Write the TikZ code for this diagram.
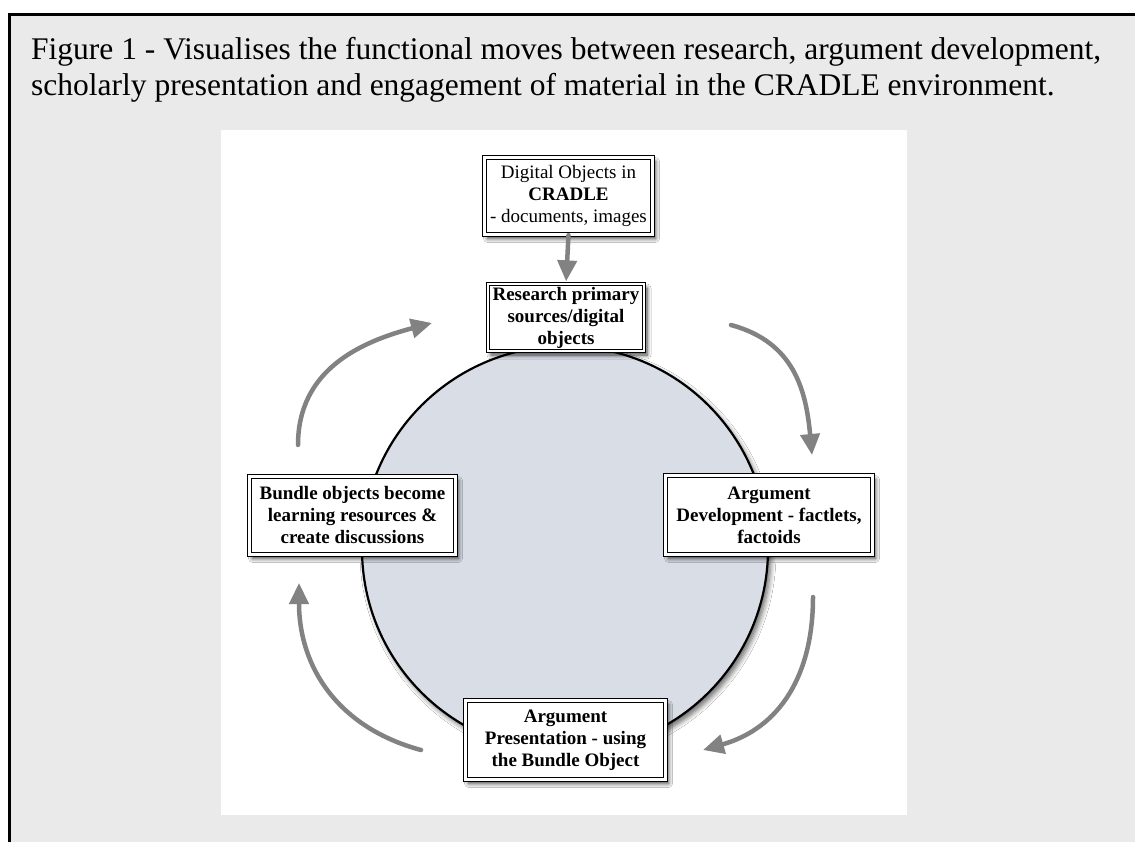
\documentclass[tikz,border=0pt]{standalone}
\usepackage{fontspec}
\setmainfont{Liberation Serif}
\usetikzlibrary{arrows.meta,shadows.blur}
\definecolor{panelbg}{HTML}{EAEAEA}
\definecolor{circfill}{HTML}{D9DEE6}
\definecolor{arrowgray}{HTML}{828282}
\tikzset{
  dbox/.style={draw=black, line width=1.3pt, double=white, double distance=2.2pt,
    fill=white, align=center, inner sep=0pt,
    font=\fontsize{19}{22}\selectfont,
    blur shadow={shadow xshift=3pt, shadow yshift=-4pt, shadow blur steps=6, shadow blur radius=4pt, shadow opacity=75}},
  garrow/.style={draw=arrowgray, line width=4.5pt, line cap=round,
    -{Triangle[length=21pt,width=19pt]}},
}
\begin{document}
\begin{tikzpicture}[x=1pt,y=-1pt]
\useasboundingbox (0,0) rectangle (1135,841);
\clip (0,0) rectangle (1135,841);
\fill[white] (0,0) rectangle (1135,841);
\fill[panelbg] (9,14) rectangle (1140,850);
\draw[line width=3pt] (9,850) -- (9,14) -- (1140,14);
\node[anchor=north west, align=left, font=\fontsize{31.5}{36.5}\selectfont, inner sep=0pt] (title) at (31,37)
  {Figure 1 - Visualises the functional moves between research, argument development,\\
   scholarly presentation and engagement of material in the CRADLE environment.};
\fill[white] (221,130) rectangle (907,815);
\node[circle, draw=black, line width=2.2pt, fill=circfill, minimum size=406pt, inner sep=0pt,
  blur shadow={shadow xshift=3pt, shadow yshift=-4pt, shadow blur steps=6, shadow blur radius=5pt, shadow opacity=60}]
  (circ) at (565,549) {};
% arrows
\coordinate (a1s) at (298,445);
\coordinate (a1e) at (432,323);
\coordinate (a2s) at (731,325);
\coordinate (a2e) at (812,455);
\coordinate (a3s) at (813,597);
\coordinate (a3e) at (703,750);
\coordinate (a4s) at (421,750);
\coordinate (a4e) at (299,583);
\draw[garrow] (a1s) .. controls (298,370) and (360,342) .. (a1e);
\draw[garrow] (a2s) .. controls (794,342) and (806,390) .. (a2e);
\draw[garrow] (a3s) .. controls (813,675) and (780,728) .. (a3e);
\draw[garrow] (a4s) .. controls (339,728) and (299,668) .. (a4e);
% boxes
\node[dbox, minimum width=168pt, minimum height=77pt] (digital) at (568.5,196)
  {Digital Objects in\\\textbf{CRADLE}\\- documents, images};
\node[dbox, font=\fontsize{19}{22}\selectfont\bfseries, minimum width=156pt, minimum height=67pt] (research) at (566,317.5)
  {Research primary\\sources/digital\\objects};
\node[dbox, font=\fontsize{19}{22}\selectfont\bfseries, minimum width=207pt, minimum height=79pt] (develop) at (769,515)
  {Argument\\Development - factlets,\\factoids};
\node[dbox, font=\fontsize{19}{22}\selectfont\bfseries, minimum width=206pt, minimum height=78pt] (bundle) at (352.5,515.5)
  {Bundle objects become\\learning resources \&\\create discussions};
\node[dbox, font=\fontsize{19}{22}\selectfont\bfseries, minimum width=200pt, minimum height=79pt] (present) at (565.5,740)
  {Argument\\Presentation - using\\the Bundle Object};
\draw[garrow, shorten >=2pt] (digital.south) -- (research.north);
\end{tikzpicture}
\end{document}
